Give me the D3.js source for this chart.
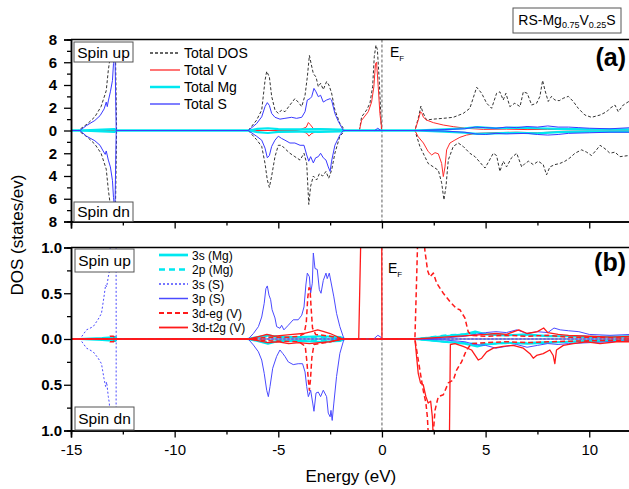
<!DOCTYPE html>
<html>
<head>
<meta charset="utf-8">
<script src="https://cdn.jsdelivr.net/npm/d3@7"></script>
<style>
  body { margin: 0; background: #fff; }
  text { font-family: "Liberation Sans", Arial, sans-serif; }
</style>
</head>
<body>
<script>
const svgWidth = 629
const svgHeight = 489

// ---- data: [energy (eV), DOS] ; spin down stored as magnitudes ----
// panel (a)
const totalDosUp = [[-14.65,0],[-14.2,0.6],[-13.85,1.2],[-13.55,2.1],[-13.3,3.5],[-13.2,5.3],[-13.1,6.6],[-12.95,7.6],[-12.86,7.6],[-12.8,0],
  [-6.45,0],[-6.05,0.9],[-5.8,1.8],[-5.64,4.4],[-5.56,5.2],[-5.43,4.7],[-5.32,3.0],[-5.16,1.8],[-5.0,1.5],[-4.84,1.8],[-4.68,1.65],[-4.44,2.24],[-4.2,2.8],[-4.04,2.5],[-3.87,2.1],[-3.71,3.1],[-3.6,4.7],[-3.5,6.6],[-3.42,5.9],[-3.31,5.0],[-3.18,4.7],[-3.07,3.85],[-2.96,4.15],[-2.83,3.6],[-2.67,4.3],[-2.56,4.0],[-2.43,3.3],[-2.27,1.8],[-2.03,0.63],[-1.78,0],
  [-1.09,0],[-0.98,1.2],[-0.74,1.8],[-0.58,2.4],[-0.45,3.85],[-0.37,6.5],[-0.29,7.5],[-0.22,7.1],[-0.13,4.4],[-0.02,0],
  [1.59,0],[1.75,1.07],[1.88,2.15],[1.96,1.65],[2.15,0.92],[2.48,1.0],[2.96,1.07],[3.44,1.16],[3.92,1.5],[4.24,1.95],[4.57,3.8],[4.81,3.27],[5.05,2.4],[5.29,1.95],[5.53,3.27],[5.69,3.4],[5.85,2.68],[5.98,3.27],[6.17,2.1],[6.41,2.4],[6.66,2.1],[6.82,3.4],[7.01,3.27],[7.22,2.24],[7.46,2.4],[7.62,3.0],[7.75,4.4],[7.86,3.56],[8.02,2.55],[8.18,3.0],[8.34,2.68],[8.55,2.62],[8.74,2.83],[8.99,3.0],[9.23,2.55],[9.47,1.95],[9.79,1.36],[10.11,1.16],[10.52,1.36],[10.84,1.65],[11.0,1.95],[11.24,2.24],[11.4,1.65],[11.64,2.24],[11.91,2.55],[12.2,2.7]]
const totalDosDn = [[-14.65,0],[-14.2,0.6],[-13.85,1.2],[-13.55,2.0],[-13.3,3.4],[-13.2,5.2],[-13.1,6.6],[-12.95,7.6],[-12.86,7.6],[-12.8,0],
  [-6.45,0],[-6.05,0.8],[-5.8,1.4],[-5.64,2.9],[-5.53,4.35],[-5.43,5.0],[-5.32,4.0],[-5.16,2.3],[-5.0,1.3],[-4.84,1.3],[-4.68,1.6],[-4.44,2.0],[-4.2,2.3],[-3.95,2.6],[-3.76,2.0],[-3.63,2.9],[-3.53,6.5],[-3.44,4.9],[-3.31,4.0],[-3.15,4.35],[-3.02,3.8],[-2.86,4.0],[-2.7,3.6],[-2.57,4.2],[-2.43,3.5],[-2.27,2.0],[-2.03,0.5],[-1.78,0],
  [1.59,0],[1.83,1.4],[2.07,2.3],[2.23,2.9],[2.48,3.2],[2.72,3.5],[2.88,4.6],[2.99,6.1],[3.09,4.9],[3.2,2.6],[3.44,1.4],[3.68,1.1],[3.92,1.4],[4.24,2.0],[4.49,2.3],[4.73,2.8],[4.97,3.3],[5.13,2.8],[5.37,2.0],[5.53,2.2],[5.69,3.6],[5.85,2.7],[6.01,3.2],[6.25,2.4],[6.5,2.0],[6.74,3.2],[6.9,2.9],[7.07,2.7],[7.3,3.0],[7.54,2.7],[7.78,3.0],[7.94,3.9],[8.1,3.2],[8.34,3.0],[8.58,2.9],[8.83,2.7],[9.07,2.4],[9.31,2.0],[9.63,1.7],[9.87,1.9],[10.11,2.2],[10.35,1.7],[10.52,1.3],[10.76,1.6],[11.0,2.0],[11.24,1.9],[11.48,2.3],[11.91,2.2],[12.2,2.1]]
const totalVUp = [[-4.2,0],[-3.9,0.1],[-3.65,0.3],[-3.55,0.7],[-3.45,0.5],[-3.3,0.15],[-3.0,0.12],[-2.5,0.1],[-2.0,0.05],[-1.8,0],
  [-1.09,0],[-0.98,0.9],[-0.82,1.27],[-0.66,1.65],[-0.5,2.5],[-0.39,3.85],[-0.31,5.9],[-0.26,6.0],[-0.18,3.85],[-0.1,1.5],[0,0],
  [1.59,0],[1.75,0.9],[1.86,1.65],[1.93,1.5],[2.0,1.16],[2.15,0.92],[2.48,0.69],[2.96,0.48],[3.44,0.34],[4.08,0.19],[4.89,0.1],[6,0.12],[7,0.08],[8,0.1],[9,0.06],[10,0.05],[12,0.04]]
const totalVDn = [[-4.2,0],[-3.8,0.1],[-3.62,0.25],[-3.52,0.5],[-3.42,0.3],[-3.2,0.1],[-2.5,0.06],[-1.8,0],
  [1.59,0],[1.75,0.55],[2.0,1.1],[2.23,1.85],[2.4,2.15],[2.56,1.95],[2.72,2.05],[2.88,2.9],[2.96,4.05],[3.04,3.2],[3.12,1.7],[3.28,1.1],[3.52,0.84],[3.76,0.6],[4.08,0.4],[4.57,0.25],[5.5,0.18],[6.5,0.15],[7.5,0.2],[8.5,0.12],[10,0.08],[12,0.05]]
const totalMgUp = [[-14.6,0],[-13.5,0.08],[-12.9,0.12],[-12.8,0],[-6.4,0],[-6.0,0.15],[-5.5,0.2],[-5.0,0.12],[-4.0,0.1],[-3.0,0.12],[-2.0,0.08],[-1.8,0],
  [1.6,0],[3.0,0.1],[4.0,0.2],[4.6,0.3],[5.5,0.2],[6.5,0.25],[7.5,0.2],[8.5,0.15],[10,0.1],[12,0.1]]
const totalMgDn = [[-14.6,0],[-13.5,0.08],[-12.9,0.12],[-12.8,0],[-6.4,0],[-6.0,0.15],[-5.5,0.22],[-5.0,0.12],[-4.0,0.1],[-3.0,0.12],[-2.0,0.08],[-1.8,0],
  [1.6,0],[3.0,0.1],[4.0,0.2],[4.6,0.3],[5.5,0.25],[6.5,0.2],[7.5,0.25],[8.5,0.15],[10,0.1],[12,0.1]]
const totalSUp = [[-14.57,0],[-14.25,0.44],[-13.85,0.88],[-13.6,1.3],[-13.4,1.9],[-13.3,2.5],[-13.25,2.1],[-13.2,2.6],[-13.1,3.4],[-13.0,4.4],[-12.95,5.9],[-12.88,7.0],[-12.82,0],
  [-6.45,0],[-6.05,0.6],[-5.8,1.2],[-5.64,2.1],[-5.53,2.45],[-5.43,2.2],[-5.32,1.5],[-5.16,1.16],[-4.92,1.0],[-4.68,1.07],[-4.36,1.16],[-4.12,1.07],[-3.87,1.16],[-3.71,1.65],[-3.6,2.68],[-3.47,2.8],[-3.39,2.97],[-3.28,3.7],[-3.18,3.4],[-3.07,2.97],[-2.96,3.1],[-2.83,2.5],[-2.67,2.68],[-2.5,2.8],[-2.43,2.68],[-2.27,1.5],[-2.1,0.78],[-1.86,0],
  [-0.35,0],[-0.2,0.2],[-0.05,0],
  [1.6,0],[3.0,0.08],[4.0,0.15],[4.5,0.3],[5.0,0.25],[5.5,0.2],[6.0,0.3],[6.5,0.25],[7.0,0.35],[7.5,0.3],[8.0,0.4],[8.5,0.3],[9.0,0.3],[9.5,0.25],[10,0.2],[11,0.15],[12,0.25]]
const totalSDn = [[-14.57,0],[-14.25,0.5],[-13.85,0.9],[-13.6,1.3],[-13.45,1.8],[-13.35,2.1],[-13.3,1.8],[-13.2,2.6],[-13.1,3.2],[-13.0,4.4],[-12.95,5.9],[-12.88,7.0],[-12.82,0],
  [-6.45,0],[-6.05,0.5],[-5.8,0.85],[-5.64,1.55],[-5.53,2.4],[-5.43,2.2],[-5.32,1.4],[-5.16,0.85],[-5.0,0.5],[-4.84,0.7],[-4.68,0.85],[-4.44,1.1],[-4.2,1.1],[-3.95,1.3],[-3.76,1.3],[-3.63,2.15],[-3.53,2.7],[-3.44,2.3],[-3.31,2.85],[-3.2,2.4],[-3.07,2.3],[-2.96,2.0],[-2.83,2.4],[-2.7,2.6],[-2.59,3.2],[-2.5,3.6],[-2.43,2.7],[-2.27,1.3],[-2.03,0.4],[-1.86,0],
  [1.6,0],[3.0,0.05],[4.0,0.15],[4.5,0.3],[5.0,0.35],[5.5,0.25],[6.0,0.3],[7.0,0.25],[7.5,0.35],[8.0,0.4],[8.5,0.35],[9.0,0.25],[10,0.2],[11,0.15],[12,0.15]]

// panel (b)
const mg3sUp = [[-14.6,0],[-13.5,0.01],[-12.85,0.02],[-12.8,0],[-6.5,0],[-6.0,0.02],[-5.5,0.04],[-5.0,0.02],[-4.0,0.02],[-3.0,0.03],[-2.0,0.02],[-1.8,0],
  [1.6,0],[3.0,0.03],[4.0,0.05],[4.5,0.08],[5.0,0.05],[6.0,0.04],[7.0,0.05],[8.0,0.03],[9.0,0.03],[10,0.02],[12,0.03]]
const mg3sDn = [[-14.6,0],[-13.5,0.01],[-12.85,0.02],[-12.8,0],[-6.5,0],[-6.0,0.02],[-5.5,0.05],[-5.0,0.02],[-4.0,0.02],[-3.0,0.03],[-2.0,0.02],[-1.8,0],
  [1.6,0],[3.0,0.03],[4.0,0.05],[4.6,0.08],[5.0,0.06],[6.0,0.04],[7.0,0.05],[8.0,0.04],[9.0,0.03],[10,0.02],[12,0.02]]
const mg2pUp = [[-6.5,0],[-5.5,0.03],[-4.0,0.02],[-2.0,0.01],[-1.8,0],[1.6,0],[3.0,0.04],[4.5,0.06],[5.5,0.05],[7.0,0.04],[9.0,0.03],[12,0.02]]
const mg2pDn = [[-6.5,0],[-5.5,0.03],[-4.0,0.02],[-2.0,0.01],[-1.8,0],[1.6,0],[3.0,0.03],[4.5,0.05],[5.5,0.05],[7.0,0.04],[9.0,0.03],[12,0.02]]
const s3sUp = [[-14.57,0],[-14.25,0.1],[-13.93,0.135],[-13.69,0.215],[-13.53,0.28],[-13.41,0.46],[-13.33,0.59],[-13.28,0.57],[-13.2,0.68],[-13.15,0.74],[-13.08,1.2],[-13.0,2.5],[-12.9,5.5],[-12.85,6.0],[-12.82,0]]
const s3sDn = [[-14.57,0],[-14.25,0.1],[-13.93,0.14],[-13.69,0.21],[-13.53,0.27],[-13.41,0.43],[-13.33,0.52],[-13.28,0.47],[-13.2,0.63],[-13.15,0.7],[-13.08,1.2],[-13.0,2.5],[-12.9,5.5],[-12.85,6.0],[-12.82,0]]
const s3pUp = [[-6.45,0],[-6.2,0.06],[-5.96,0.135],[-5.8,0.24],[-5.68,0.39],[-5.6,0.55],[-5.53,0.58],[-5.45,0.48],[-5.37,0.43],[-5.3,0.32],[-5.16,0.23],[-5.08,0.135],[-4.92,0.117],[-4.84,0.15],[-4.73,0.1],[-4.52,0.15],[-4.28,0.21],[-4.04,0.21],[-3.87,0.26],[-3.76,0.35],[-3.67,0.59],[-3.6,0.72],[-3.5,0.68],[-3.44,0.5],[-3.36,0.61],[-3.31,0.94],[-3.23,0.77],[-3.12,0.76],[-3.02,0.54],[-2.94,0.5],[-2.83,0.64],[-2.7,0.72],[-2.64,0.66],[-2.54,0.72],[-2.43,0.59],[-2.32,0.46],[-2.19,0.28],[-2.03,0.135],[-1.83,0],
  [-0.4,0],[-0.2,0.04],[-0.05,0.02],[0,0],
  [1.6,0],[3.0,0.01],[4.0,0.03],[4.5,0.05],[5.0,0.07],[5.5,0.08],[6.0,0.07],[6.5,0.1],[7.0,0.06],[7.5,0.08],[8.0,0.07],[8.3,0.12],[8.6,0.1],[9.0,0.09],[9.5,0.08],[10,0.05],[11,0.04],[12,0.05]]
const s3pDn = [[-6.45,0],[-6.2,0.066],[-5.96,0.14],[-5.8,0.23],[-5.68,0.375],[-5.56,0.56],[-5.48,0.63],[-5.4,0.52],[-5.27,0.32],[-5.08,0.19],[-4.92,0.12],[-4.79,0.157],[-4.68,0.19],[-4.52,0.25],[-4.28,0.28],[-4.04,0.27],[-3.83,0.27],[-3.71,0.36],[-3.63,0.52],[-3.55,0.63],[-3.44,0.56],[-3.34,0.7],[-3.28,0.79],[-3.18,0.59],[-3.07,0.58],[-2.96,0.63],[-2.83,0.56],[-2.67,0.63],[-2.59,0.81],[-2.5,0.85],[-2.46,0.78],[-2.4,0.89],[-2.32,0.7],[-2.19,0.41],[-2.03,0.157],[-1.83,0],
  [1.6,0],[3.0,0.01],[4.0,0.03],[4.5,0.06],[5.0,0.07],[5.5,0.1],[6.0,0.08],[6.5,0.06],[7.0,0.09],[7.5,0.07],[8.0,0.05],[8.5,0.06],[9.0,0.05],[10,0.04],[11,0.03],[12,0.02]]
const egUp = [[-13.25,0],[-13.12,0.03],[-12.95,0.03],[-12.85,0],
  [-6.4,0],[-5.5,0.02],[-4.5,0.02],[-4.0,0.03],[-3.75,0.06],[-3.65,0.18],[-3.58,0.45],[-3.52,0.56],[-3.47,0.55],[-3.42,0.35],[-3.35,0.12],[-3.2,0.05],[-2.5,0.03],[-1.9,0],
  [1.59,0],[1.67,0.64],[1.75,1.3],[1.85,2.0],[1.95,1.4],[2.07,0.97],[2.2,0.75],[2.31,0.68],[2.48,0.72],[2.64,0.61],[2.96,0.5],[3.28,0.41],[3.6,0.33],[3.76,0.32],[4.0,0.23],[4.16,0.08],[4.32,0.04],[5.0,0.03],[6.0,0.04],[7.0,0.03],[8.0,0.04],[9.0,0.02],[10,0.02],[12,0.01]]
const egDn = [[-13.25,0],[-13.12,0.03],[-12.95,0.03],[-12.85,0],
  [-6.4,0],[-5.5,0.02],[-4.0,0.03],[-3.7,0.08],[-3.62,0.25],[-3.55,0.45],[-3.5,0.56],[-3.45,0.45],[-3.38,0.2],[-3.28,0.06],[-2.5,0.03],[-1.9,0],
  [1.59,0],[1.83,0.34],[1.99,0.56],[2.12,0.7],[2.19,0.85],[2.25,1.1],[2.35,1.4],[2.45,1.1],[2.56,0.78],[2.64,0.7],[2.72,0.63],[2.96,0.61],[3.2,0.48],[3.44,0.45],[3.6,0.34],[3.84,0.25],[4.08,0.12],[4.32,0.05],[5.0,0.04],[6.0,0.03],[7.0,0.04],[8.0,0.03],[10,0.02],[12,0.01]]
const t2gUp = [[-6.4,0],[-5.9,0.03],[-5.55,0.05],[-5.2,0.03],[-4.8,0.04],[-4.3,0.05],[-3.8,0.06],[-3.4,0.08],[-3.1,0.1],[-2.8,0.08],[-2.5,0.06],[-2.2,0.03],[-1.9,0],
  [-1.12,0],[-1.02,1.1],[-0.9,1.4],[-0.6,2.4],[-0.3,6.0],[-0.1,1.5],[-0.01,1.2],[0,0],
  [1.6,0],[3.0,0.02],[4.3,0.04],[5.0,0.05],[5.5,0.06],[6.0,0.05],[6.6,0.1],[7.0,0.06],[7.5,0.08],[7.8,0.12],[8.0,0.07],[8.5,0.05],[9.0,0.04],[10,0.03],[11,0.02],[12,0.03]]
const t2gDn = [[-6.4,0],[-5.5,0.04],[-5.0,0.03],[-4.5,0.05],[-4.0,0.04],[-3.5,0.05],[-3.0,0.04],[-2.5,0.03],[-1.9,0],
  [1.59,0],[1.67,0.19],[1.75,0.375],[1.86,0.48],[1.99,0.5],[2.12,0.63],[2.23,0.7],[2.35,0.68],[2.43,0.85],[2.5,1.2],[2.8,1.6],[3.1,1.6],[3.25,1.2],[3.3,0.06],[3.52,0.05],[3.92,0.08],[4.32,0.12],[4.65,0.23],[4.81,0.21],[5.05,0.14],[5.37,0.1],[5.85,0.08],[6.33,0.07],[6.82,0.1],[7.14,0.16],[7.3,0.21],[7.46,0.18],[7.78,0.16],[8.1,0.12],[8.26,0.18],[8.34,0.27],[8.42,0.12],[8.75,0.07],[9.23,0.05],[9.87,0.03],[10.52,0.05],[11.32,0.03],[12,0.03]]

const legendA = ["Total DOS", "Total V", "Total Mg", "Total S"]
const legendB = ["3s (Mg)", "2p (Mg)", "3s (S)", "3p (S)", "3d-eg (V)", "3d-t2g (V)"]
const xMajor = [-15, -10, -5, 0, 5, 10]
const xMinor = [-12.5, -7.5, -2.5, 2.5, 7.5]
const yMajorA = [-8, -6, -4, -2, 0, 2, 4, 6, 8]
const yMinorA = [-7, -5, -3, -1, 1, 3, 5, 7]
const yMajorB = [-1, -0.5, 0, 0.5, 1]
const yMinorB = [-0.75, -0.25, 0.25, 0.75]

// ---- styles ----
const dosStyle = { stroke: "#333", width: 1, dash: "3,2" }
const vStyle = { stroke: "#ff2a2a", width: 1, dash: null }
const mgStyle = { stroke: "#00e8f0", width: 2.2, dash: null }
const sStyle = { stroke: "#3a3aff", width: 1, dash: null }
const styleB = [
  { stroke: "#00e8f0", width: 2.2, dash: null },
  { stroke: "#00e8f0", width: 1.8, dash: "6,4" },
  { stroke: "#4a4aff", width: 1, dash: "2,2" },
  { stroke: "#4a4aff", width: 1, dash: null },
  { stroke: "#ff1a1a", width: 1.5, dash: "5,3" },
  { stroke: "#ff1a1a", width: 1.3, dash: null }
]

const left = 71
const x = d3.scaleLinear().domain([-15, 12]).range([left, left + 27 * 20.73])
const yA = d3.scaleLinear().domain([-8, 8]).range([221.5, 39.5])
const yB = d3.scaleLinear().domain([-1, 1]).range([430.5, 247.5])

const svg = d3.select("body").append("svg")
  .attr("width", svgWidth)
  .attr("height", svgHeight)

svg.append("rect").attr("width", svgWidth).attr("height", svgHeight).attr("fill", "#fff")

const defs = svg.append("defs")
function makeClip(id, y) {
  defs.append("clipPath").attr("id", id).append("rect")
    .attr("x", left).attr("y", y.range()[1])
    .attr("width", x.range()[1] - left)
    .attr("height", y.range()[0] - y.range()[1])
}
makeClip("clipA", yA)
makeClip("clipB", yB)

const pad = arr => [[-15, 0], ...arr, [13, 0]]

function drawSeries(g, y, data, sign, st) {
  const line = d3.line().x(d => x(d[0])).y(d => y(sign * d[1]))
  g.append("path")
    .datum(pad(data))
    .attr("d", line)
    .attr("fill", "none")
    .attr("stroke", st.stroke)
    .attr("stroke-width", st.width)
    .attr("stroke-dasharray", st.dash)
    .attr("stroke-linejoin", "round")
}

function efLine(g, y) {
  g.append("line")
    .attr("x1", x(0)).attr("x2", x(0))
    .attr("y1", y.range()[1]).attr("y2", y.range()[0])
    .attr("stroke", "#777").attr("stroke-width", 1.2).attr("stroke-dasharray", "3,2")
}

// panel a
const plotA = svg.append("g").attr("clip-path", "url(#clipA)")
efLine(plotA, yA)
const seriesA = [[totalDosUp, totalDosDn, dosStyle], [totalVUp, totalVDn, vStyle], [totalMgUp, totalMgDn, mgStyle], [totalSUp, totalSDn, sStyle]]
seriesA.forEach(s => {
  drawSeries(plotA, yA, s[0], 1, s[2])
  drawSeries(plotA, yA, s[1], -1, s[2])
})

// panel b
const plotB = svg.append("g").attr("clip-path", "url(#clipB)")
efLine(plotB, yB)
plotB.append("line").attr("x1", left).attr("x2", svgWidth).attr("y1", yB(0)).attr("y2", yB(0))
  .attr("stroke", "#666").attr("stroke-width", 1)
const seriesB = [[mg3sUp, mg3sDn], [mg2pUp, mg2pDn], [s3sUp, s3sDn], [s3pUp, s3pDn], [egUp, egDn], [t2gUp, t2gDn]]
seriesB.forEach((s, i) => {
  drawSeries(plotB, yB, s[0], 1, styleB[i])
  drawSeries(plotB, yB, s[1], -1, styleB[i])
})

// axes
function styleAxis(g) {
  g.select(".domain").attr("stroke", "#000").attr("stroke-width", 1.5)
  g.selectAll(".tick line").attr("stroke", "#000").attr("stroke-width", 1.3)
}

function yAxis(y, major, minor, fmt, padding) {
  const gMin = svg.append("g").attr("transform", `translate(${left},0)`)
    .call(d3.axisLeft(y).tickValues(minor).tickSize(4).tickFormat(""))
  styleAxis(gMin)
  const g = svg.append("g").attr("transform", `translate(${left},0)`)
    .call(d3.axisLeft(y).tickValues(major).tickSize(7).tickPadding(padding).tickFormat(fmt))
  styleAxis(g)
  g.selectAll("text").attr("font-size", 15).attr("font-weight", "bold").attr("fill", "#000")
    .attr("font-family", "Liberation Sans, Arial, sans-serif")
}
yAxis(yA, yMajorA, yMinorA, d => Math.abs(d), 7)
yAxis(yB, yMajorB, yMinorB, d => d3.format(".1f")(Math.abs(d)), 2)

function xAxis(yPos, labels) {
  const gMin = svg.append("g").attr("transform", `translate(0,${yPos})`)
    .call(d3.axisBottom(x).tickValues(xMinor).tickSize(4).tickFormat(""))
  styleAxis(gMin)
  const g = svg.append("g").attr("transform", `translate(0,${yPos})`)
    .call(d3.axisBottom(x).tickValues(xMajor).tickSize(7).tickPadding(7).tickFormat(labels ? d => String(d) : ""))
  styleAxis(g)
  g.selectAll("text").attr("font-size", 15).attr("fill", "#000")
    .attr("font-family", "Liberation Sans, Arial, sans-serif")
}
xAxis(yA.range()[0], false)
xAxis(yB.range()[0], true)

// top borders
;[yA, yB].forEach(y => {
  svg.append("line").attr("x1", left).attr("x2", svgWidth).attr("y1", y.range()[1]).attr("y2", y.range()[1])
    .attr("stroke", "#000").attr("stroke-width", 1.5)
})

// spin boxes
function spinBox(bx, by, w, h, label) {
  svg.append("rect").attr("x", bx).attr("y", by).attr("width", w).attr("height", h)
    .attr("fill", "#fff").attr("stroke", "#555").attr("stroke-width", 1)
  svg.append("text").attr("x", bx + w / 2).attr("y", by + h / 2 + 5.5)
    .attr("text-anchor", "middle").attr("font-size", 15.5).text(label)
}
spinBox(74, 42, 59, 20, "Spin up")
spinBox(74, 202, 59, 19.5, "Spin dn")
spinBox(75, 249, 59, 23, "Spin up")
spinBox(75, 407, 59, 23, "Spin dn")

// legends
const legA = svg.append("g")
legendA.forEach((name, i) => {
  const st = [dosStyle, vStyle, mgStyle, sStyle][i]
  const ly = 53 + i * 17
  legA.append("line").attr("x1", 150).attr("x2", 180).attr("y1", ly).attr("y2", ly)
    .attr("stroke", st.stroke).attr("stroke-width", st.width + 0.3).attr("stroke-dasharray", st.dash)
  legA.append("text").attr("x", 184).attr("y", ly + 5).attr("font-size", 14).text(name)
})
const legB = svg.append("g")
legendB.forEach((name, i) => {
  const st = styleB[i]
  const ly = 255 + i * 14.5
  legB.append("line").attr("x1", 159).attr("x2", 188).attr("y1", ly).attr("y2", ly)
    .attr("stroke", st.stroke).attr("stroke-width", st.width + 0.5).attr("stroke-dasharray", st.dash)
  legB.append("text").attr("x", 192).attr("y", ly + 4.5).attr("font-size", 12).text(name)
})

// E_F labels
function efLabel(lx, ly) {
  const t = svg.append("text").attr("x", lx).attr("y", ly).attr("font-size", 14)
  t.append("tspan").text("E")
  t.append("tspan").attr("font-size", 8).attr("dy", 4).text("F")
}
efLabel(390, 57)
efLabel(388, 273)

// panel letters
svg.append("text").attr("x", 626).attr("y", 66).attr("text-anchor", "end")
  .attr("font-size", 25).attr("font-weight", "bold").text("(a)")
svg.append("text").attr("x", 626).attr("y", 271).attr("text-anchor", "end")
  .attr("font-size", 25).attr("font-weight", "bold").text("(b)")

// title box
svg.append("rect").attr("x", 513).attr("y", 8).attr("width", 108).attr("height", 25)
  .attr("fill", "#fff").attr("stroke", "#555").attr("stroke-width", 1)
const title = svg.append("text").attr("x", 567).attr("y", 25).attr("text-anchor", "middle").attr("font-size", 14)
title.append("tspan").text("RS-Mg")
title.append("tspan").attr("font-size", 9).attr("dy", 3).text("0.75")
title.append("tspan").attr("dy", -3).text("V")
title.append("tspan").attr("font-size", 9).attr("dy", 3).text("0.25")
title.append("tspan").attr("dy", -3).text("S")

// axis titles
svg.append("text").attr("x", (left + x.range()[1]) / 2).attr("y", 482).attr("text-anchor", "middle")
  .attr("font-size", 17).text("Energy (eV)")
svg.append("text").attr("transform", "translate(23,235) rotate(-90)").attr("text-anchor", "middle")
  .attr("font-size", 17).text("DOS (states/ev)")
</script>
</body>
</html>
